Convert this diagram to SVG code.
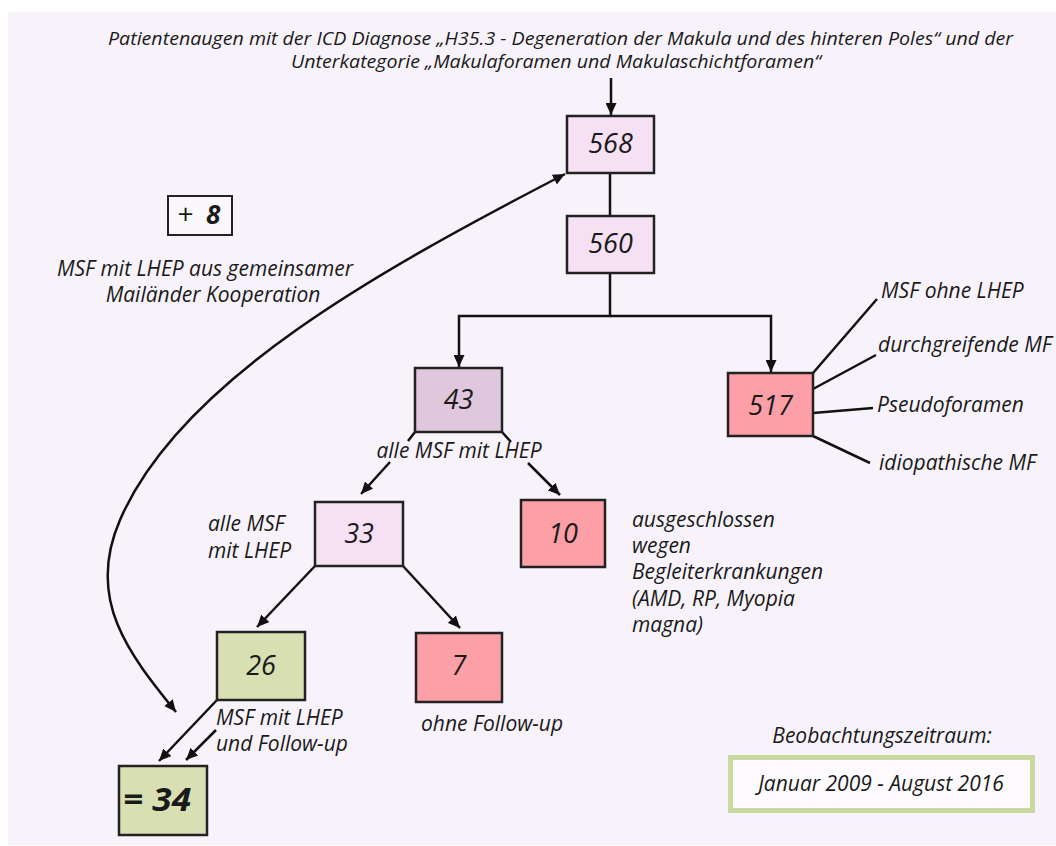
<svg xmlns="http://www.w3.org/2000/svg" width="1056" height="846" viewBox="0 0 1056 846">
<defs>
<marker id="ah" markerUnits="userSpaceOnUse" markerWidth="13" markerHeight="11" refX="12" refY="5.5" orient="auto-start-reverse">
<path d="M0,0 L12,5.5 L0,11 z" fill="#111"/>
</marker>
</defs>
<style>
text{font-family:"Open Sans","Noto Sans",sans-serif;font-style:italic;fill:#1a1a1a}
.lbl{font-size:21px}
.ttl{font-size:18px}
.num{font-size:27px;text-anchor:middle}
.box{stroke:#222;stroke-width:2.5}
.pink{fill:#f5e1f3}
.mauve{fill:#dfc7de}
.red{fill:#fd9fa7}
.green{fill:#d8dfb3}
.ln{fill:none;stroke:#111;stroke-width:2.5}
.arr{fill:none;stroke:#111;stroke-width:2.5;marker-end:url(#ah)}
</style>
<rect x="0" y="0" width="1056" height="846" fill="#ffffff"/>
<rect x="8" y="12" width="1048" height="833" fill="#f8f3fa"/>

<g id="title">
<text class="ttl" x="108" y="45" textLength="905" lengthAdjust="spacingAndGlyphs">Patientenaugen mit der ICD Diagnose „H35.3 - Degeneration der Makula und des hinteren Poles“ und der</text>
<text class="ttl" x="291" y="68" textLength="530" lengthAdjust="spacingAndGlyphs">Unterkategorie „Makulaforamen und Makulaschichtforamen“</text>
</g>

<g id="connectors">
<path class="arr" d="M611,78 V115"/>
<path class="ln" d="M610,173 V216"/>
<path class="arr" d="M610,273 V316 H459 V367"/>
<path class="arr" d="M610,316 H771 V372"/>
<path class="ln" d="M813,373 L877,299 M813,389 L876,355 M813,413 L873,408 M813,436 L870,463"/>
<path class="ln" d="M415,432 L408,441 M502,432 L511,442"/>
<path class="arr" d="M390,462 L361,494"/>
<path class="arr" d="M528,463 L560,495"/>
<path class="arr" d="M315,566 L257,627"/>
<path class="arr" d="M403,566 L460,628"/>
<path class="arr" d="M217,700 L159,761"/>
<path class="arr" d="M216,730 L186,760"/>
<path class="arr" style="marker-start:url(#ah)" d="M565,174 C380,270 180,380 120,520 C85,600 130,655 176,712"/>
</g>

<g id="n568"><rect class="box pink" x="567" y="116" width="87" height="57"/><text class="num" x="610.5" y="153">568</text></g>
<g id="n560"><rect class="box pink" x="567" y="216" width="87" height="57"/><text class="num" x="610.5" y="253">560</text></g>
<g id="n43"><rect class="box mauve" x="415" y="368" width="87" height="64"/><text class="num" x="458.5" y="409">43</text></g>
<g id="n517"><rect class="box red" x="728" y="373" width="85" height="63"/><text class="num" x="770.5" y="415">517</text></g>
<g id="n33"><rect class="box pink" x="315" y="502" width="88" height="64"/><text class="num" x="359" y="543">33</text></g>
<g id="n10"><rect class="box red" x="521" y="500" width="84" height="67"/><text class="num" x="563" y="543">10</text></g>
<g id="n26"><rect class="box green" x="217" y="632" width="88" height="68"/><text class="num" x="261" y="675">26</text></g>
<g id="n7"><rect class="box red" x="416" y="633" width="86" height="69"/><text class="num" x="459" y="675">7</text></g>
<g id="n34"><rect class="box green" x="119" y="766" width="88" height="69"/><text x="123" y="811" font-size="32" font-weight="bold" textLength="68" lengthAdjust="spacingAndGlyphs">= 34</text></g>
<g id="plus8"><rect x="168" y="196" width="64" height="39" fill="#fbf8fc" stroke="#222" stroke-width="2"/><text x="177" y="224" font-size="28" font-style="normal">+<tspan x="206" font-size="26" font-weight="bold" font-style="italic">8</tspan></text></g>

<g id="labels">
<text class="lbl" x="205" y="276" text-anchor="middle">MSF mit LHEP aus gemeinsamer</text>
<text class="lbl" x="213" y="302" text-anchor="middle">Mailänder Kooperation</text>
<text class="lbl" x="881" y="298">MSF ohne LHEP</text>
<text class="lbl" x="878" y="352">durchgreifende MF</text>
<text class="lbl" x="877" y="412">Pseudoforamen</text>
<text class="lbl" x="879" y="470">idiopathische MF</text>
<text class="lbl" x="459" y="458" text-anchor="middle">alle MSF mit LHEP</text>
<text class="lbl" x="208" y="531">alle MSF</text>
<text class="lbl" x="208" y="558">mit LHEP</text>
<text class="lbl" x="632" y="527">ausgeschlossen</text>
<text class="lbl" x="632" y="553">wegen</text>
<text class="lbl" x="632" y="579">Begleiterkrankungen</text>
<text class="lbl" x="632" y="606">(AMD, RP, Myopia</text>
<text class="lbl" x="632" y="632">magna)</text>
<text class="lbl" x="216" y="725">MSF mit LHEP</text>
<text class="lbl" x="216" y="751">und Follow-up</text>
<text class="lbl" x="421" y="731">ohne Follow-up</text>
</g>

<g id="period">
<text class="lbl" x="882" y="743" text-anchor="middle" font-size="21.5">Beobachtungszeitraum:</text>
<rect x="730.5" y="757.5" width="302" height="53" fill="#fdfbfd" stroke="#c9d9a0" stroke-width="5"/>
<text class="lbl" x="881" y="791" text-anchor="middle" font-size="24">Januar 2009 - August 2016</text>
</g>
</svg>
